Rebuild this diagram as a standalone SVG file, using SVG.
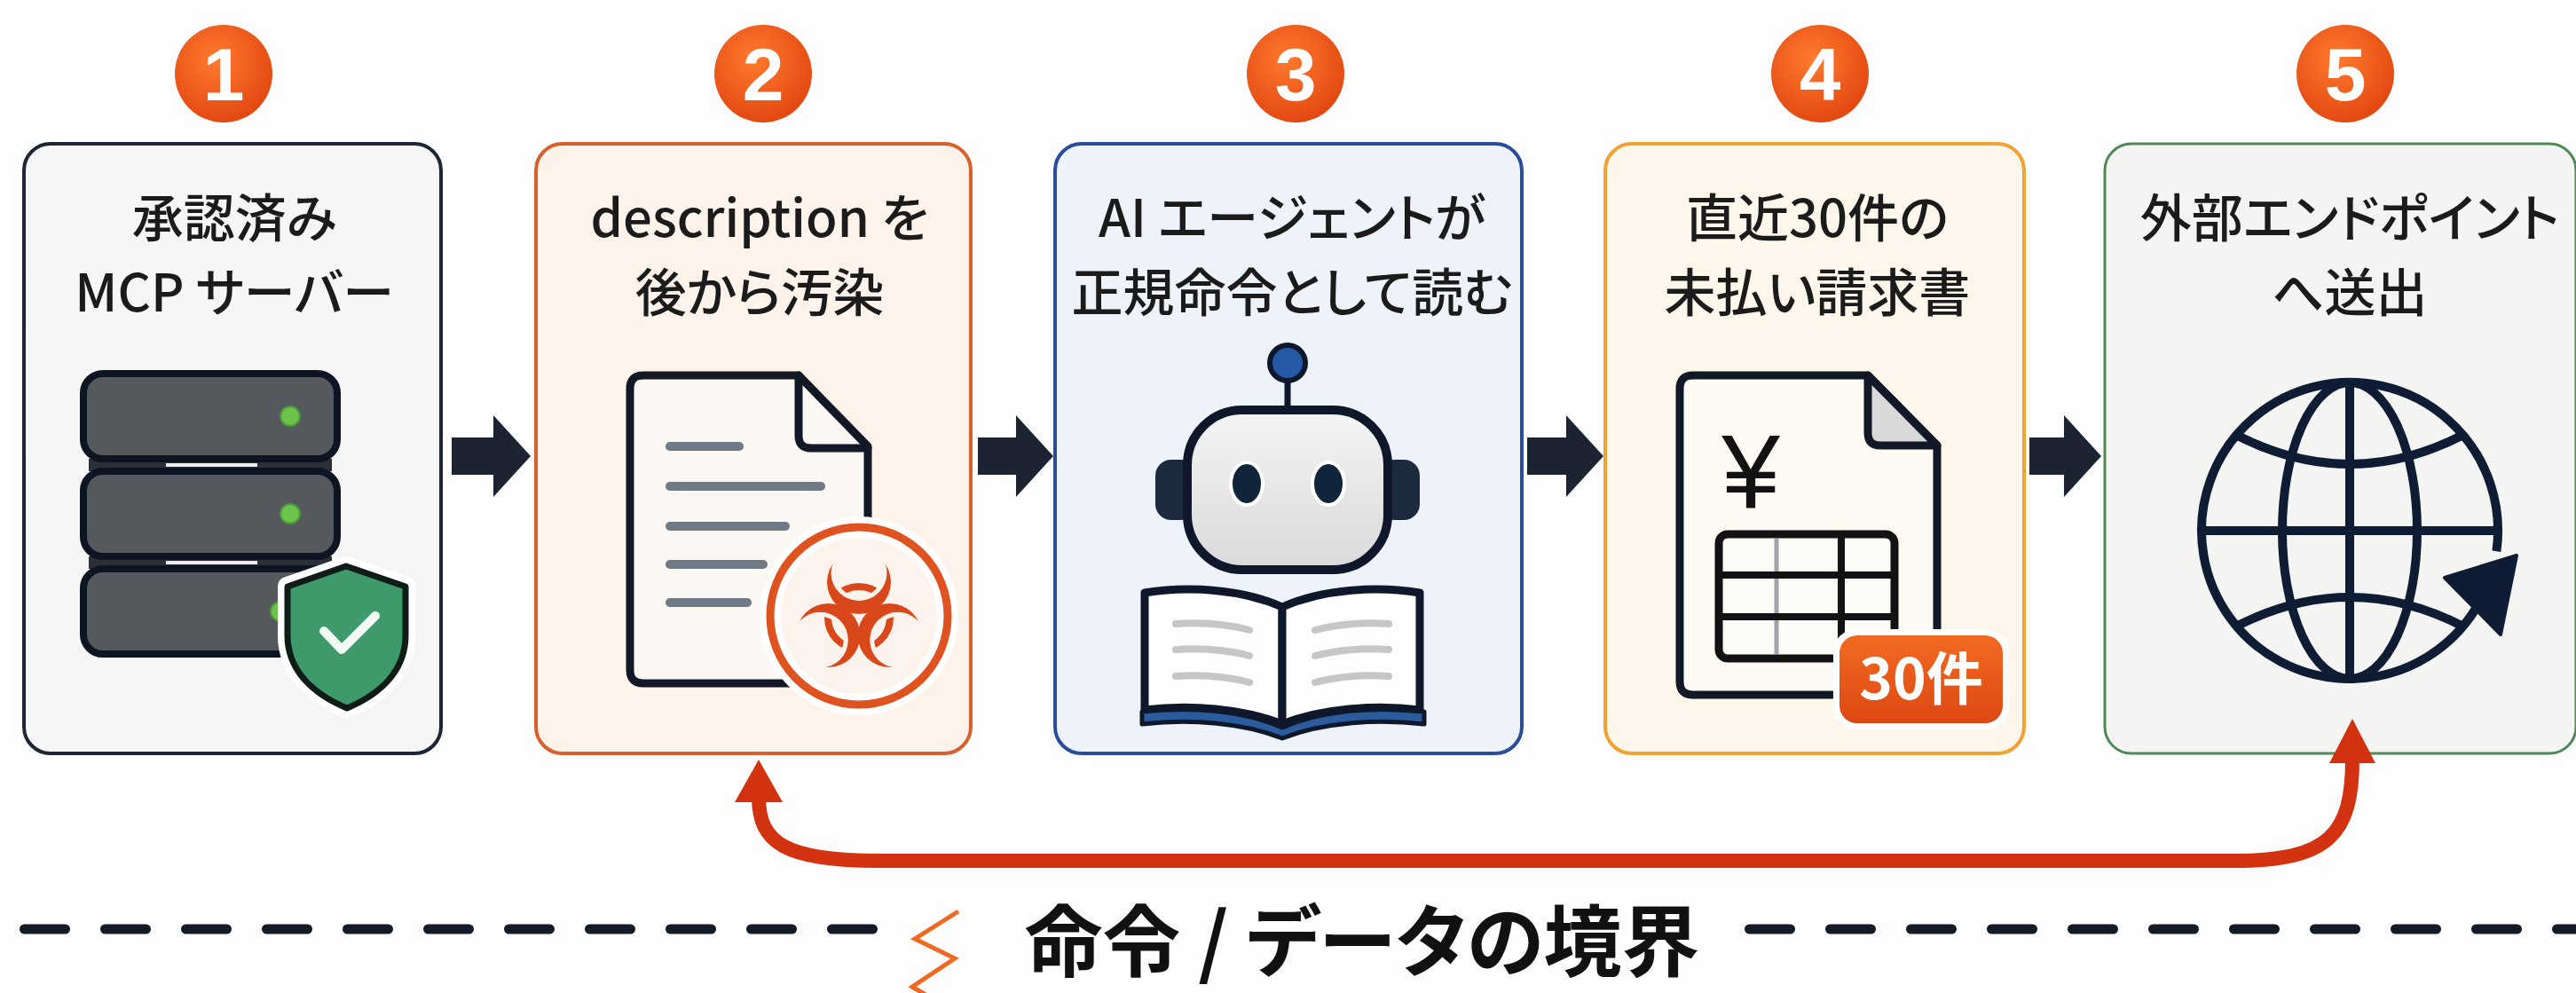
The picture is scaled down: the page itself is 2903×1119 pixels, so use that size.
<svg xmlns="http://www.w3.org/2000/svg" width="2903" height="1119" viewBox="0 0 2903 1119">
  <style>
    .lbl { font-family: "Noto Sans CJK JP", "Noto Sans", sans-serif; font-size: 58px; font-weight: 500; fill: #1b1b1b; text-anchor: middle; font-feature-settings: "palt" 1; }
    .num { font-family: "Liberation Sans", Arial, sans-serif; font-size: 84px; font-weight: 700; fill: #ffffff; text-anchor: middle; }
    .badge { fill: url(#badgeGrad); }
    .box { stroke-width: 4; }
    .rack { fill: #55585d; stroke: #0e1522; stroke-width: 8; }
    .led { fill: #6cc24a; stroke: #4a9a3c; stroke-width: 2; }
    .ink { stroke: #121826; stroke-width: 9; stroke-linejoin: round; stroke-linecap: round; }
    .docline { stroke: #6f7a86; stroke-width: 10; stroke-linecap: round; }
    .pageline { stroke: #c6c6c6; stroke-width: 8; stroke-linecap: round; fill: none; }
    .globe { fill: none; stroke: #0e1d33; stroke-width: 10; }
    .flow { fill: #1b2430; }
    .leak { fill: none; stroke: #d23210; stroke-width: 16; }
    .leakhead { fill: #d23210; }
    .dash { stroke: #141b27; stroke-width: 11; stroke-linecap: round; stroke-dasharray: 46 45; }
    .boundary { font-family: "Noto Sans CJK JP", "Noto Sans", sans-serif; font-size: 88px; font-weight: 700; fill: #111111; text-anchor: middle; font-feature-settings: "palt" 1; }
  </style>
  <defs>
    <radialGradient id="badgeGrad" cx="0.42" cy="0.35" r="0.7">
      <stop offset="0" stop-color="#ff7a2e"/>
      <stop offset="1" stop-color="#e0450f"/>
    </radialGradient>
    <linearGradient id="headGrad" x1="0" y1="0" x2="0" y2="1">
      <stop offset="0" stop-color="#f4f4f4"/>
      <stop offset="1" stop-color="#dadada"/>
    </linearGradient>
    <linearGradient id="tagGrad" x1="0" y1="0" x2="0" y2="1">
      <stop offset="0" stop-color="#f26a22"/>
      <stop offset="1" stop-color="#dc4812"/>
    </linearGradient>
    <!-- hollows that turn three discs into the biohazard crescents -->
    <mask id="bioMask" maskUnits="userSpaceOnUse" x="-100" y="-100" width="200" height="200">
      <rect x="-100" y="-100" width="200" height="200" fill="#fff"/>
      <circle cx="0" cy="-50.5" r="31.5" fill="#000"/>
      <circle cx="43.73" cy="25.25" r="31.5" fill="#000"/>
      <circle cx="-43.73" cy="25.25" r="31.5" fill="#000"/>
    </mask>
    <!-- the ring only shows inside each hollow, with a small gap to the arms -->
    <mask id="ringMask" maskUnits="userSpaceOnUse" x="-100" y="-100" width="200" height="200">
      <rect x="-100" y="-100" width="200" height="200" fill="#000"/>
      <circle cx="0" cy="-50.5" r="26.5" fill="#fff"/>
      <circle cx="43.73" cy="25.25" r="26.5" fill="#fff"/>
      <circle cx="-43.73" cy="25.25" r="26.5" fill="#fff"/>
    </mask>
  </defs>

  <rect width="2903" height="1119" fill="#fdfdfd"/>

  <!-- step 1: approved MCP server -->
  <g id="node-1">
    <rect class="box" x="27" y="162" width="470" height="687" rx="30" fill="#f6f6f6" stroke="#1c2636" stroke-width="5"/>
    <circle class="badge" cx="252" cy="83" r="55"/>
    <text class="num" x="252" y="113">1</text>
    <text class="lbl" x="264" y="267">承認済み</text>
    <text class="lbl" x="264" y="351">MCP サーバー</text>
    <rect x="100" y="517" width="274" height="14" fill="#2b2f36"/>
    <rect x="100" y="627" width="274" height="14" fill="#2b2f36"/>
    <rect class="rack" x="94" y="421" width="286" height="96" rx="22"/>
    <rect class="rack" x="94" y="531" width="286" height="96" rx="22"/>
    <rect class="rack" x="94" y="641" width="286" height="96" rx="22"/>
    <line x1="187" y1="524" x2="290" y2="524" stroke="#eeeeee" stroke-width="4"/>
    <line x1="187" y1="634" x2="290" y2="634" stroke="#eeeeee" stroke-width="4"/>
    <circle class="led" cx="327" cy="469" r="11"/>
    <circle class="led" cx="327" cy="579" r="11"/>
    <circle class="led" cx="316" cy="689" r="11"/>
    <path d="M390 638 L457 661 L457 716 C457 757 427 783 391 798 C355 783 324 757 324 716 L324 661 Z" fill="none" stroke="#ffffff" stroke-width="22" stroke-linejoin="round"/>
    <path d="M390 638 L457 661 L457 716 C457 757 427 783 391 798 C355 783 324 757 324 716 L324 661 Z" fill="#3e9a6a" stroke="#0f1c18" stroke-width="7" stroke-linejoin="round"/>
    <path d="M365 711 L385 732 L423 694" fill="none" stroke="#f2fbf4" stroke-width="10" stroke-linecap="round" stroke-linejoin="round"/>
  </g>

  <!-- step 2: description poisoned afterwards -->
  <g id="node-2">
    <rect class="box" x="604" y="162" width="490" height="687" rx="30" fill="#fdf3ea" stroke="#d8602c"/>
    <circle class="badge" cx="860" cy="83" r="55"/>
    <text class="num" x="860" y="113">2</text>
    <text class="lbl" x="856" y="267">description を</text>
    <text class="lbl" x="856" y="351">後から汚染</text>
    <path class="ink" d="M725 423 H900 L978 503 V755 Q978 770 963 770 H725 Q710 770 710 755 V438 Q710 423 725 423 Z" fill="#fbf7f2"/>
    <path class="ink" d="M900 423 V491 Q900 505 914 505 H978" fill="none"/>
    <line class="docline" x1="755" y1="503" x2="833" y2="503"/>
    <line class="docline" x1="755" y1="548" x2="925" y2="548"/>
    <line class="docline" x1="755" y1="593" x2="885" y2="593"/>
    <line class="docline" x1="755" y1="636" x2="860" y2="636"/>
    <line class="docline" x1="755" y1="679" x2="842" y2="679"/>
    <circle cx="968" cy="694" r="100" fill="#fcf3ec" stroke="#ffffff" stroke-width="24"/>
    <circle cx="968" cy="694" r="100" fill="none" stroke="#df5320" stroke-width="9"/>
    <g transform="translate(968,696)">
      <g mask="url(#bioMask)" fill="#d9481a">
        <circle cx="0" cy="-40" r="36"/>
        <circle cx="34.64" cy="20" r="36"/>
        <circle cx="-34.64" cy="20" r="36"/>
      </g>
      <circle cx="0" cy="0" r="35" fill="none" stroke="#d9481a" stroke-width="8" mask="url(#ringMask)"/>
    </g>
  </g>

  <!-- step 3: the agent reads it as a legitimate instruction -->
  <g id="node-3">
    <rect class="box" x="1189" y="162" width="526" height="687" rx="30" fill="#eef3f9" stroke="#2a4d9b"/>
    <circle class="badge" cx="1460" cy="83" r="55"/>
    <text class="num" x="1460" y="113">3</text>
    <text class="lbl" x="1456" y="267">AI エージェントが</text>
    <text class="lbl" x="1456" y="351">正規命令として読む</text>
    <rect x="1302" y="518" width="46" height="68" rx="18" fill="#1b2a3d"/>
    <rect x="1554" y="518" width="46" height="68" rx="18" fill="#1b2a3d"/>
    <line x1="1451" y1="428" x2="1451" y2="462" stroke="#0f172a" stroke-width="7"/>
    <circle cx="1451" cy="409" r="20" fill="#2559a6" stroke="#0f172a" stroke-width="6"/>
    <rect x="1338" y="462" width="226" height="180" rx="62" fill="url(#headGrad)" stroke="#0f172a" stroke-width="10"/>
    <ellipse cx="1405" cy="545" rx="18" ry="24" fill="#10243a" stroke="#ffffff" stroke-width="4"/>
    <ellipse cx="1497" cy="545" rx="18" ry="24" fill="#10243a" stroke="#ffffff" stroke-width="4"/>
    <path d="M1445 684 C1400 664 1340 660 1290 668 L1290 800 C1340 794 1400 798 1445 816 Z" fill="#fdfdfd" stroke="#0f172a" stroke-width="9" stroke-linejoin="round"/>
    <path d="M1445 684 C1490 664 1550 660 1600 668 L1600 800 C1550 794 1490 798 1445 816 Z" fill="#fdfdfd" stroke="#0f172a" stroke-width="9" stroke-linejoin="round"/>
    <path d="M1287 802 C1340 796 1400 800 1445 820 C1490 800 1550 796 1605 802 L1605 816 C1550 810 1490 814 1445 832 C1400 814 1340 810 1287 816 Z" fill="#2a5b9c" stroke="#0f172a" stroke-width="5" stroke-linejoin="round"/>
    <path class="pageline" d="M1325 703 Q1370 700 1408 710"/>
    <path class="pageline" d="M1325 732 Q1370 729 1408 739"/>
    <path class="pageline" d="M1325 762 Q1370 759 1408 769"/>
    <path class="pageline" d="M1482 710 Q1520 700 1565 703"/>
    <path class="pageline" d="M1482 739 Q1520 729 1565 732"/>
    <path class="pageline" d="M1482 769 Q1520 759 1565 762"/>
  </g>

  <!-- step 4: latest 30 unpaid invoices -->
  <g id="node-4">
    <rect class="box" x="1809" y="162" width="472" height="687" rx="30" fill="#fdf7eb" stroke="#f0a232"/>
    <circle class="badge" cx="2051" cy="83" r="55"/>
    <text class="num" x="2051" y="113">4</text>
    <text class="lbl" x="2048" y="267">直近30件の</text>
    <text class="lbl" x="2048" y="351">未払い請求書</text>
    <path class="ink" d="M1908 423 H2105 L2183 502 V768 Q2183 783 2168 783 H1908 Q1893 783 1893 768 V438 Q1893 423 1908 423 Z" fill="#fdfaf3"/>
    <path class="ink" d="M2105 423 L2183 502 H2119 Q2105 502 2105 488 Z" fill="#d9d9d9"/>
    <text x="1973" y="573" font-family="Liberation Sans, Arial, sans-serif" font-size="118" fill="#121212" text-anchor="middle">¥</text>
    <rect x="1937" y="602" width="198" height="140" rx="10" fill="#fdfbf6" stroke="#121212" stroke-width="9"/>
    <line x1="2002" y1="607" x2="2002" y2="737" stroke="#9ea3aa" stroke-width="5"/>
    <line x1="1937" y1="648" x2="2135" y2="648" stroke="#121212" stroke-width="8"/>
    <line x1="1937" y1="695" x2="2135" y2="695" stroke="#121212" stroke-width="8"/>
    <line x1="2075" y1="602" x2="2075" y2="742" stroke="#121212" stroke-width="8"/>
    <rect x="2066" y="709" width="198" height="113" rx="26" fill="#ffffff"/>
    <rect x="2073" y="716" width="184" height="99" rx="20" fill="url(#tagGrad)"/>
    <text x="2165" y="788" font-family="Noto Sans CJK JP, Noto Sans, sans-serif" font-size="64" font-weight="700" fill="#ffffff" text-anchor="middle">30件</text>
  </g>

  <!-- step 5: sent to an external endpoint -->
  <g id="node-5">
    <rect x="2372" y="162" width="531" height="687" rx="30" fill="#f4f5f2" stroke="#4d8a58" stroke-width="3"/>
    <circle class="badge" cx="2643" cy="83" r="55"/>
    <text class="num" x="2643" y="113">5</text>
    <text class="lbl" x="2648" y="267">外部エンドポイント</text>
    <text class="lbl" x="2648" y="351">へ送出</text>
    <path class="globe" stroke-width="11" d="M2813.4 621.2 A167 167 0 1 0 2789.6 686.5"/>
    <ellipse class="globe" cx="2648" cy="598" rx="76" ry="167"/>
    <path class="globe" d="M2648 431 V765"/>
    <path class="globe" d="M2481 598 H2815"/>
    <path class="globe" d="M2520 490 Q2648 556 2776 490"/>
    <path class="globe" d="M2520 706 Q2648 640 2776 706"/>
    <polygon points="2755,651 2836,626 2818,715" fill="#0e1d33" stroke="#0e1d33" stroke-width="4" stroke-linejoin="round"/>
  </g>

  <!-- flow arrows between steps and the exfiltration loop -->
  <g id="connectors">
    <path class="flow" d="M509 493 H556 V468 L598 514 L556 560 V535 H509 Z"/>
    <path class="flow" d="M1102 493 H1145 V468 L1187 514 L1145 560 V535 H1102 Z"/>
    <path class="flow" d="M1721 493 H1765 V468 L1807 514 L1765 560 V535 H1721 Z"/>
    <path class="flow" d="M2287 493 H2326 V468 L2368 514 L2326 560 V535 H2287 Z"/>
    <path class="leak" d="M855 898 C855 950 885 970 990 970 L2518 970 C2625 970 2651 940 2651 855"/>
    <polygon class="leakhead" points="855,856 828,904 882,904"/>
    <polygon class="leakhead" points="2651,810 2625,860 2677,860"/>
  </g>

  <!-- instruction / data boundary -->
  <g id="boundary">
    <line class="dash" x1="27.5" y1="1047" x2="984" y2="1047"/>
    <line class="dash" x1="1971.5" y1="1047" x2="2903" y2="1047"/>
    <polyline points="1080,1027 1031,1058 1076,1080 1028,1112 1052,1126" fill="none" stroke="#ee6a22" stroke-width="5"/>
    <text class="boundary" x="1535" y="1093">命令 / データの境界</text>
  </g>
</svg>
